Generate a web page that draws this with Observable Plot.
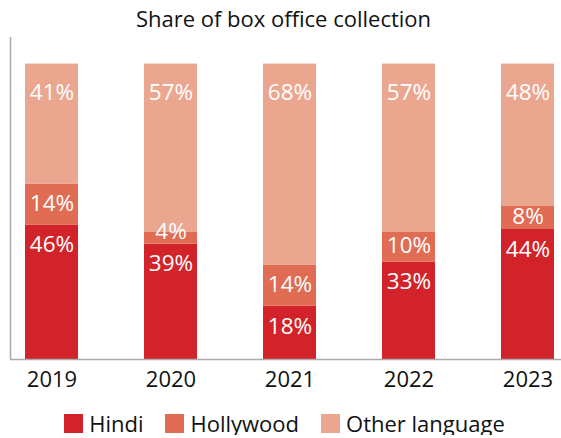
<!DOCTYPE html>
<html>
<head>
<meta charset="utf-8">
<script src="https://cdn.jsdelivr.net/npm/d3@7"></script>
<script src="https://cdn.jsdelivr.net/npm/@observablehq/plot@0.6"></script>
<style>
  html, body { margin: 0; padding: 0; background: #fff; }
  #wrap { width: 561px; font-family: "Open Sans", sans-serif; color: #111; }
  #title { height: 36px; line-height: 36px; font-size: 22px; text-align: center; padding-left: 6px; box-sizing: border-box; }
  #legend { display: flex; justify-content: center; align-items: center; gap: 22px; font-size: 22px; padding-left: 8px; margin-top: 15px; line-height: 24px; }
  .item { display: flex; align-items: center; gap: 6px; }
  .sw { width: 19px; height: 19px; display: inline-block; }
</style>
</head>
<body>
<div id="wrap">
  <div id="title">Share of box office collection</div>
  <div id="chart"></div>
  <div id="legend"></div>
</div>
<script>
const years = ["2019", "2020", "2021", "2022", "2023"];
const series = ["Hindi", "Hollywood", "Other language"];
const hindi = [46, 39, 18, 33, 44];
const hollywood = [14, 4, 14, 10, 8];
const other = [41, 57, 68, 57, 48];
const colors = ["#d2232a", "#e06c54", "#eaa68f"];

const values = [hindi, hollywood, other];
const rows = [];
years.forEach((yr, i) => {
  const total = hindi[i] + hollywood[i] + other[i];
  let acc = 0;
  series.forEach((s, k) => {
    const v = values[k][i];
    const y1 = acc / total;
    acc += v;
    const y2 = acc / total;
    // small segments: label sits on the segment's top edge instead of its middle
    const mid = (y2 - y1) < 0.07 ? y2 : (y1 + y2) / 2;
    rows.push({year: yr, series: s, value: v, y1, y2, mid, label: v + "%"});
  });
});

const textOpts = {x: "year", text: "label", fill: "white", fontSize: 22.5, fontWeight: 500};

const leftLine = (index, scales, values, dims) => {
  const ns = "http://www.w3.org/2000/svg";
  const l = document.createElementNS(ns, "line");
  const x = dims.marginLeft + 0.5;
  l.setAttribute("x1", x); l.setAttribute("x2", x);
  l.setAttribute("y1", dims.marginTop); l.setAttribute("y2", dims.height - dims.marginBottom);
  l.setAttribute("stroke", "#aaaaaa"); l.setAttribute("stroke-width", 1.5);
  return l;
};

const chart = Plot.plot({
  width: 561,
  height: 360,
  marginTop: 1,
  marginLeft: 10,
  marginRight: 0,
  marginBottom: 37,
  style: {fontFamily: "Open Sans, sans-serif", background: "white"},
  x: {domain: years, paddingInner: 0.555, paddingOuter: 0.0925, align: 0.68, label: null, tickSize: 0},
  y: {domain: [0, 1.09], axis: null},
  color: {domain: series, range: colors},
  marks: [
    Plot.barY(rows, {x: "year", y1: "y1", y2: "y2", fill: "series"}),
    Plot.ruleY([0], {stroke: "#aaaaaa", strokeWidth: 1.5}),
    leftLine,
    Plot.text(rows.filter(d => d.series === "Hindi"), {...textOpts, y: "y2", dy: 20}),
    Plot.text(rows.filter(d => d.series === "Hollywood"), {...textOpts, y: "mid", dy: -1}),
    Plot.text(rows.filter(d => d.series === "Other language"), {...textOpts, y: "y2", dy: 29}),
    Plot.axisX({tickSize: 0, tickPadding: 12, fontSize: 22, fontWeight: 500, fill: "#111", label: null})
  ]
});
document.getElementById("chart").appendChild(chart);

const legend = document.getElementById("legend");
series.forEach((s, k) => {
  const it = document.createElement("div");
  it.className = "item";
  const sw = document.createElement("span");
  sw.className = "sw";
  sw.style.background = colors[k];
  const t = document.createElement("span");
  t.textContent = s;
  it.appendChild(sw); it.appendChild(t);
  legend.appendChild(it);
});
</script>
</body>
</html>
